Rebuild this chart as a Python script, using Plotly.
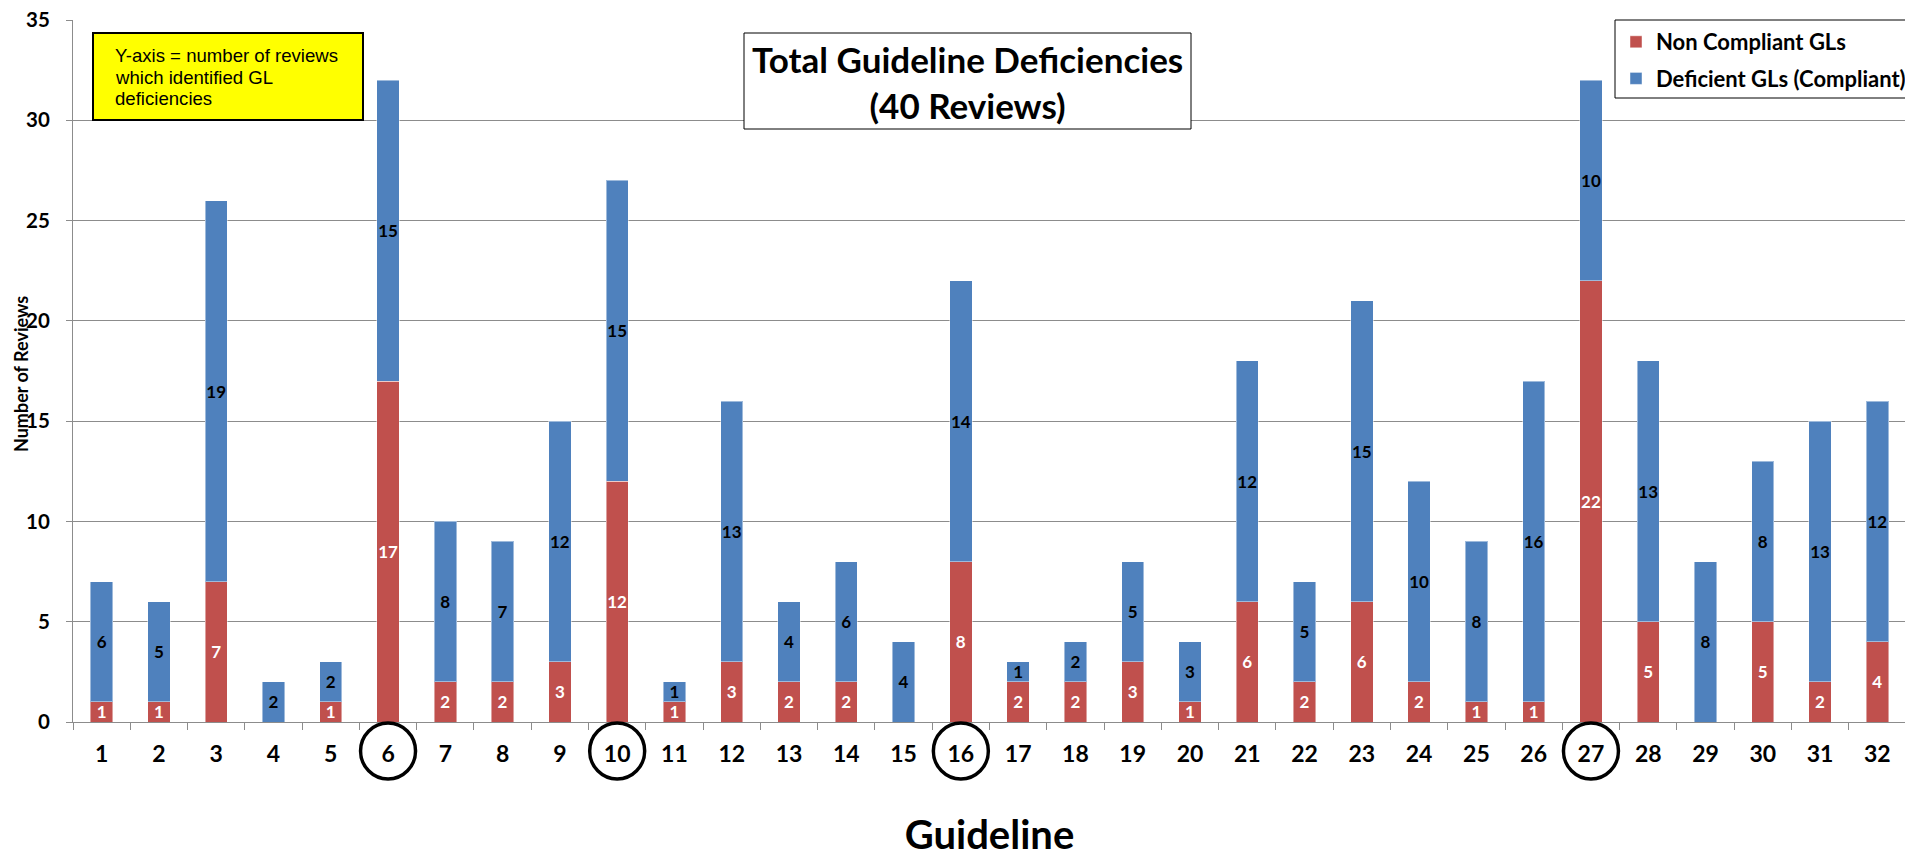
import plotly.graph_objects as go

# ---------------- data ----------------
guidelines = list(range(1, 33))
non_compliant = [1, 1, 7, 0, 1, 17, 2, 2, 3, 12, 1, 3, 2, 2, 0, 8,
                 2, 2, 3, 1, 6, 2, 6, 2, 1, 1, 22, 5, 0, 5, 2, 4]
deficient_compliant = [6, 5, 19, 2, 2, 15, 8, 7, 12, 15, 1, 13, 4, 6, 4, 14,
                       1, 2, 5, 3, 12, 5, 15, 10, 8, 16, 10, 13, 8, 8, 13, 12]
series_names = ["Non Compliant GLs", "Deficient GLs (Compliant)"]
highlighted = [6, 10, 16, 27]
y_ticks = [0, 5, 10, 15, 20, 25, 30, 35]
title_text = "Total Guideline Deficiencies<br>(40 Reviews)"
note_lines = ["Y-axis = number of reviews", "which identified GL", "deficiencies"]
x_title = "Guideline"
y_title = "Number of Reviews"

# ---------------- layout geometry (page pixels) ----------------
OFF = 8                      # browser body margin
W, H = 1913 - OFF, 858 - OFF
L, R, T, B = 73, 1906, 20, 722   # plot area in page pixels


def px_x(px):
    return (px - L) / (R - L)


def px_y(py):
    return (B - py) / (B - T)


FONT = "Lato"
RED = "#C0504D"
BLUE = "#4F81BD"
GRID = "#8c8c8c"

fig = go.Figure()
fig.add_trace(go.Bar(
    x=guidelines, y=non_compliant, name=series_names[0],
    marker=dict(color=RED, line=dict(color="rgba(255,255,255,0.45)", width=1)),
    text=[str(v) if v else "" for v in non_compliant],
    textposition="inside", insidetextanchor="middle", textangle=0,
    textfont=dict(family=FONT, size=17, color="white", weight="bold"),
    legendgroup="nc",
))
fig.add_trace(go.Bar(
    x=guidelines, y=deficient_compliant, name=series_names[1],
    marker=dict(color=BLUE, line=dict(color="rgba(255,255,255,0.45)", width=1)),
    text=[str(v) if v else "" for v in deficient_compliant],
    textposition="inside", insidetextanchor="middle", textangle=0,
    textfont=dict(family=FONT, size=17, color="black", weight="bold"),
    legendgroup="dc",
))

shapes = []
# legend box
shapes.append(dict(type="rect", xref="paper", yref="paper",
                   x0=px_x(1615), x1=px_x(1912), y0=px_y(98), y1=px_y(20),
                   fillcolor="white", line=dict(color="black", width=1), layer="above"))
# title box
shapes.append(dict(type="rect", xref="paper", yref="paper",
                   x0=px_x(744), x1=px_x(1191), y0=px_y(129), y1=px_y(33),
                   fillcolor="white", line=dict(color="black", width=1), layer="above"))
# yellow note box
shapes.append(dict(type="rect", xref="paper", yref="paper",
                   x0=px_x(93), x1=px_x(363), y0=px_y(120), y1=px_y(33),
                   fillcolor="#FFFF00", line=dict(color="black", width=2), layer="above"))
# circles around highlighted guideline labels
for g in highlighted:
    shapes.append(dict(type="circle", xref="x", yref="paper",
                       x0=g - 0.48, x1=g + 0.48, y0=px_y(779), y1=px_y(723),
                       line=dict(color="black", width=3.5), layer="above"))

annotations = [
    dict(text=title_text, xref="paper", yref="paper",
         x=px_x(967.5), y=px_y(82), xanchor="center", yanchor="middle",
         showarrow=False, font=dict(family=FONT, size=35, color="black", weight="bold")),
    dict(text=y_title, xref="paper", yref="paper",
         x=px_x(21), y=px_y(374), xanchor="center", yanchor="middle", textangle=-90,
         showarrow=False, font=dict(family=FONT, size=18, color="black", weight="bold")),
]
for i, line in enumerate(note_lines):
    annotations.append(dict(text=line, xref="paper", yref="paper",
                            x=px_x(113), y=px_y(55 + 22 * i), xanchor="left", yanchor="middle",
                            showarrow=False,
                            font=dict(family="Liberation Sans", size=18.6, color="black")))

fig.update_layout(
    width=W, height=H, autosize=False,
    margin=dict(l=L - OFF, r=W - (R - OFF), t=T - OFF, b=H - (B - OFF), autoexpand=False),
    paper_bgcolor="white", plot_bgcolor="white",
    barmode="stack", bargap=0.61,
    uniformtext=dict(minsize=17, mode="show"),
    font=dict(family=FONT, color="black"),
    shapes=shapes, annotations=annotations,
    legend=dict(x=px_x(1616), y=px_y(21), xanchor="left", yanchor="top",
                bgcolor="rgba(0,0,0,0)", borderwidth=0,
                traceorder="grouped", tracegroupgap=5,
                font=dict(family=FONT, size=22, color="black", weight="bold")),
    xaxis=dict(range=[0.5, 32.5], tickmode="array", tickvals=guidelines,
               ticktext=[str(g) for g in guidelines], ticks="",
               showgrid=False, zeroline=False, showline=True,
               linecolor=GRID, linewidth=1, automargin=False,
               tickfont=dict(family=FONT, size=23, color="black", weight="bold"),
               ticklabelstandoff=11, ticklabeloverflow="allow",
               minor=dict(tickvals=[i + 0.5 for i in range(0, 33)], ticks="outside",
                          ticklen=7, tickcolor=GRID, showgrid=False),
               title=dict(text=x_title, standoff=55,
                          font=dict(family=FONT, size=40, color="black", weight="bold"))),
    yaxis=dict(range=[0, 35], tickmode="array", tickvals=y_ticks,
               showgrid=True, gridcolor=GRID, gridwidth=1, zeroline=False,
               showline=True, linecolor=GRID, linewidth=1, automargin=False,
               ticks="outside", ticklen=6, tickcolor=GRID,
               tickfont=dict(family=FONT, size=20.5, color="black", weight="bold"),
               ticklabelstandoff=12, ticklabeloverflow="allow"),
)

fig.write_html("out.html")
